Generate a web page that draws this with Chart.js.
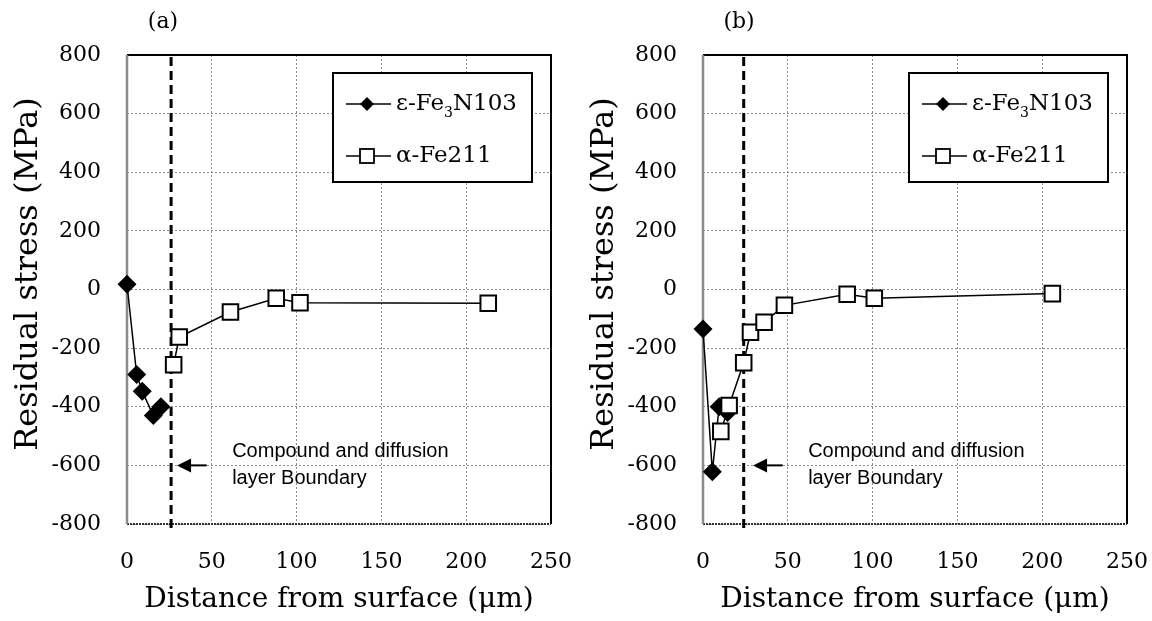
<!DOCTYPE html>
<html>
<head>
<meta charset="utf-8">
<script src="https://cdn.jsdelivr.net/npm/chart.js@4"></script>
<style>
    body { margin: 0; background: #ffffff; }
    .contenedor { display: flex; width: 1152px; height: 621px; }
    canvas { display: block; }
</style>
</head>
<body>
<div class="contenedor">
    <canvas id="graficaA" width="576" height="621"></canvas>
    <canvas id="graficaB" width="576" height="621"></canvas>
</div>
<script>
// ---- datos panel (a)
const epsXA = [0, 5.7, 9, 15.5, 20];
const epsYA = [18, -290, -347, -430, -400];
const alfXA = [27.5, 30.8, 61, 88, 102, 213];
const alfYA = [-257, -162, -77, -30, -45, -47];
const limiteA = 26;

// ---- datos panel (b)
const epsXB = [0, 5.5, 9.5, 14.5];
const epsYB = [-135, -622, -400, -420];
const alfXB = [10.5, 15.4, 24, 28, 36, 48, 85, 101, 206];
const alfYB = [-484, -396, -250, -146, -112, -54, -16, -30, -14];
const limiteB = 24;

// ---- ejes y textos
const ticksX = [0, 50, 100, 150, 200, 250];
const ticksY = [-800, -600, -400, -200, 0, 200, 400, 600, 800];
const serieEps = ['ε-Fe', '3', 'N103'];
const serieAlf = 'α-Fe211';
const tituloX = 'Distance from surface (μm)';
const tituloY = 'Residual stress (MPa)';
const notaTexto = ['Compound and diffusion', 'layer Boundary'];
const flechaY = -600;
const flechaX = [29.5, 47];
const notaX = 62;

const SERIF = '"DejaVu Serif", serif';

function puntos(xs, ys) {
    return xs.map((x, i) => ({ x: x, y: ys[i] }));
}

function pluginPanel(letra, limite) {
    return {
        id: 'panel' + letra,
        beforeDatasetsDraw(chart) {
            const { ctx, chartArea: a, scales: { x, y } } = chart;
            ctx.save();
            // marco
            ctx.strokeStyle = '#000';
            ctx.lineWidth = 2;
            ctx.beginPath();
            ctx.moveTo(a.left, a.top);
            ctx.lineTo(a.right, a.top);
            ctx.lineTo(a.right, a.bottom);
            ctx.stroke();
            ctx.setLineDash([2, 1]);
            ctx.strokeStyle = '#333';
            ctx.beginPath();
            ctx.moveTo(a.left, a.bottom);
            ctx.lineTo(a.right, a.bottom);
            ctx.stroke();
            ctx.setLineDash([]);
            ctx.strokeStyle = '#8a8a8a';
            ctx.lineWidth = 2.5;
            ctx.beginPath();
            ctx.moveTo(a.left, a.top);
            ctx.lineTo(a.left, a.bottom);
            ctx.stroke();

            // linea de limite
            const lx = x.getPixelForValue(limite);
            ctx.strokeStyle = '#000';
            ctx.lineWidth = 3;
            ctx.setLineDash([9, 5]);
            ctx.beginPath();
            ctx.moveTo(lx, a.top + 2);
            ctx.lineTo(lx, a.bottom + 5);
            ctx.stroke();
            ctx.setLineDash([]);

            // flecha
            const fy = y.getPixelForValue(flechaY);
            const x1 = x.getPixelForValue(flechaX[0]);
            const x2 = x.getPixelForValue(flechaX[1]);
            ctx.lineWidth = 2;
            ctx.beginPath();
            ctx.moveTo(x1 + 10, fy);
            ctx.lineTo(x2, fy);
            ctx.stroke();
            ctx.fillStyle = '#000';
            ctx.beginPath();
            ctx.moveTo(x1, fy);
            ctx.lineTo(x1 + 14, fy - 7);
            ctx.lineTo(x1 + 14, fy + 7);
            ctx.closePath();
            ctx.fill();

            // nota
            ctx.font = '20px "Liberation Sans", Arial, sans-serif';
            ctx.textAlign = 'left';
            ctx.textBaseline = 'alphabetic';
            const nx = x.getPixelForValue(notaX);
            ctx.fillText(notaTexto[0], nx, fy - 8);
            ctx.fillText(notaTexto[1], nx, fy + 19);
            ctx.restore();
        },
        afterDraw(chart) {
            const { ctx, chartArea: a } = chart;
            ctx.save();
            // leyenda
            const bx = a.left + 206, by = a.top + 18;
            const bw = a.right - 19 - bx, bh = 109;
            ctx.fillStyle = '#fff';
            ctx.fillRect(bx, by, bw, bh);
            ctx.strokeStyle = '#000';
            ctx.lineWidth = 2;
            ctx.strokeRect(bx, by, bw, bh);

            const filas = [by + 31, by + 83];
            ctx.lineWidth = 1.5;
            filas.forEach(fy => {
                ctx.beginPath();
                ctx.moveTo(bx + 13, fy);
                ctx.lineTo(bx + 58, fy);
                ctx.stroke();
            });
            // rombo
            const mx = bx + 34;
            ctx.fillStyle = '#000';
            ctx.beginPath();
            ctx.moveTo(mx - 7, filas[0]);
            ctx.lineTo(mx, filas[0] - 7);
            ctx.lineTo(mx + 7, filas[0]);
            ctx.lineTo(mx, filas[0] + 7);
            ctx.closePath();
            ctx.fill();
            // cuadro
            ctx.fillStyle = '#fff';
            ctx.lineWidth = 1.8;
            ctx.fillRect(mx - 7, filas[1] - 7, 14, 14);
            ctx.strokeRect(mx - 7, filas[1] - 7, 14, 14);

            ctx.fillStyle = '#000';
            ctx.textAlign = 'left';
            ctx.textBaseline = 'middle';
            const tx = bx + 63;
            ctx.font = '23px ' + SERIF;
            ctx.fillText(serieEps[0], tx, filas[0]);
            let w = ctx.measureText(serieEps[0]).width;
            ctx.font = '14px ' + SERIF;
            ctx.fillText(serieEps[1], tx + w, filas[0] + 9);
            w += ctx.measureText(serieEps[1]).width;
            ctx.font = '23px ' + SERIF;
            ctx.fillText(serieEps[2], tx + w, filas[0]);
            ctx.fillText(serieAlf, tx, filas[1]);

            // titulo eje y
            ctx.save();
            ctx.translate(29, 274);
            ctx.rotate(-Math.PI / 2);
            ctx.textAlign = 'center';
            ctx.font = '32px ' + SERIF;
            ctx.fillText(tituloY, 0, 0);
            ctx.restore();

            // letra del panel
            ctx.font = '22px ' + SERIF;
            ctx.textAlign = 'center';
            ctx.fillText('(' + letra + ')', a.left + 36, 22);
            ctx.restore();
        }
    };
}

function crearGrafica(id, letra, epsX, epsY, alfX, alfY, limite) {
    const ctx = document.getElementById(id);
    return new Chart(ctx, {
        type: 'line',
        data: {
            datasets: [
                {
                    label: serieEps.join(''),
                    data: puntos(epsX, epsY),
                    borderColor: '#000',
                    backgroundColor: '#000',
                    borderWidth: 1.5,
                    pointStyle: 'rectRot',
                    pointRadius: 9.5,
                    pointBorderWidth: 0,
                    tension: 0,
                    clip: false,
                    order: 2
                },
                {
                    label: serieAlf,
                    data: puntos(alfX, alfY),
                    borderColor: '#000',
                    backgroundColor: '#fff',
                    pointBackgroundColor: '#fff',
                    pointBorderColor: '#000',
                    borderWidth: 1.5,
                    pointStyle: 'rect',
                    pointRadius: 11,
                    pointBorderWidth: 2,
                    tension: 0,
                    clip: false,
                    order: 1
                }
            ]
        },
        options: {
            responsive: false,
            animation: false,
            layout: { padding: { top: 55, right: 25, left: 0, bottom: 0 } },
            scales: {
                x: {
                    type: 'linear',
                    min: ticksX[0],
                    max: ticksX[ticksX.length - 1],
                    afterBuildTicks: s => { s.ticks = ticksX.map(v => ({ value: v })); },
                    afterFit: s => { s.height = 97; s.paddingLeft = 0; s.paddingRight = 0; },
                    ticks: { color: '#000', padding: 25, font: { family: SERIF, size: 22 }, maxRotation: 0 },
                    grid: { color: '#8c8c8c', lineWidth: 1, drawTicks: false },
                    border: { display: false, dash: [2, 2] },
                    title: { display: true, text: tituloX, color: '#000', font: { family: SERIF, size: 28 }, padding: { top: 0, bottom: 4 } }
                },
                y: {
                    type: 'linear',
                    min: ticksY[0],
                    max: ticksY[ticksY.length - 1],
                    afterBuildTicks: s => { s.ticks = ticksY.map(v => ({ value: v })); },
                    afterFit: s => { s.width = 127; s.paddingTop = 0; s.paddingBottom = 0; },
                    ticks: { color: '#000', padding: 26, font: { family: SERIF, size: 22 } },
                    grid: { color: '#8c8c8c', lineWidth: 1, drawTicks: false },
                    border: { display: false, dash: [2, 2] },
                    title: { display: false }
                }
            },
            plugins: {
                legend: { display: false },
                tooltip: { enabled: false }
            }
        },
        plugins: [pluginPanel(letra, limite)]
    });
}

crearGrafica('graficaA', 'a', epsXA, epsYA, alfXA, alfYA, limiteA);
crearGrafica('graficaB', 'b', epsXB, epsYB, alfXB, alfYB, limiteB);
</script>
</body>
</html>
